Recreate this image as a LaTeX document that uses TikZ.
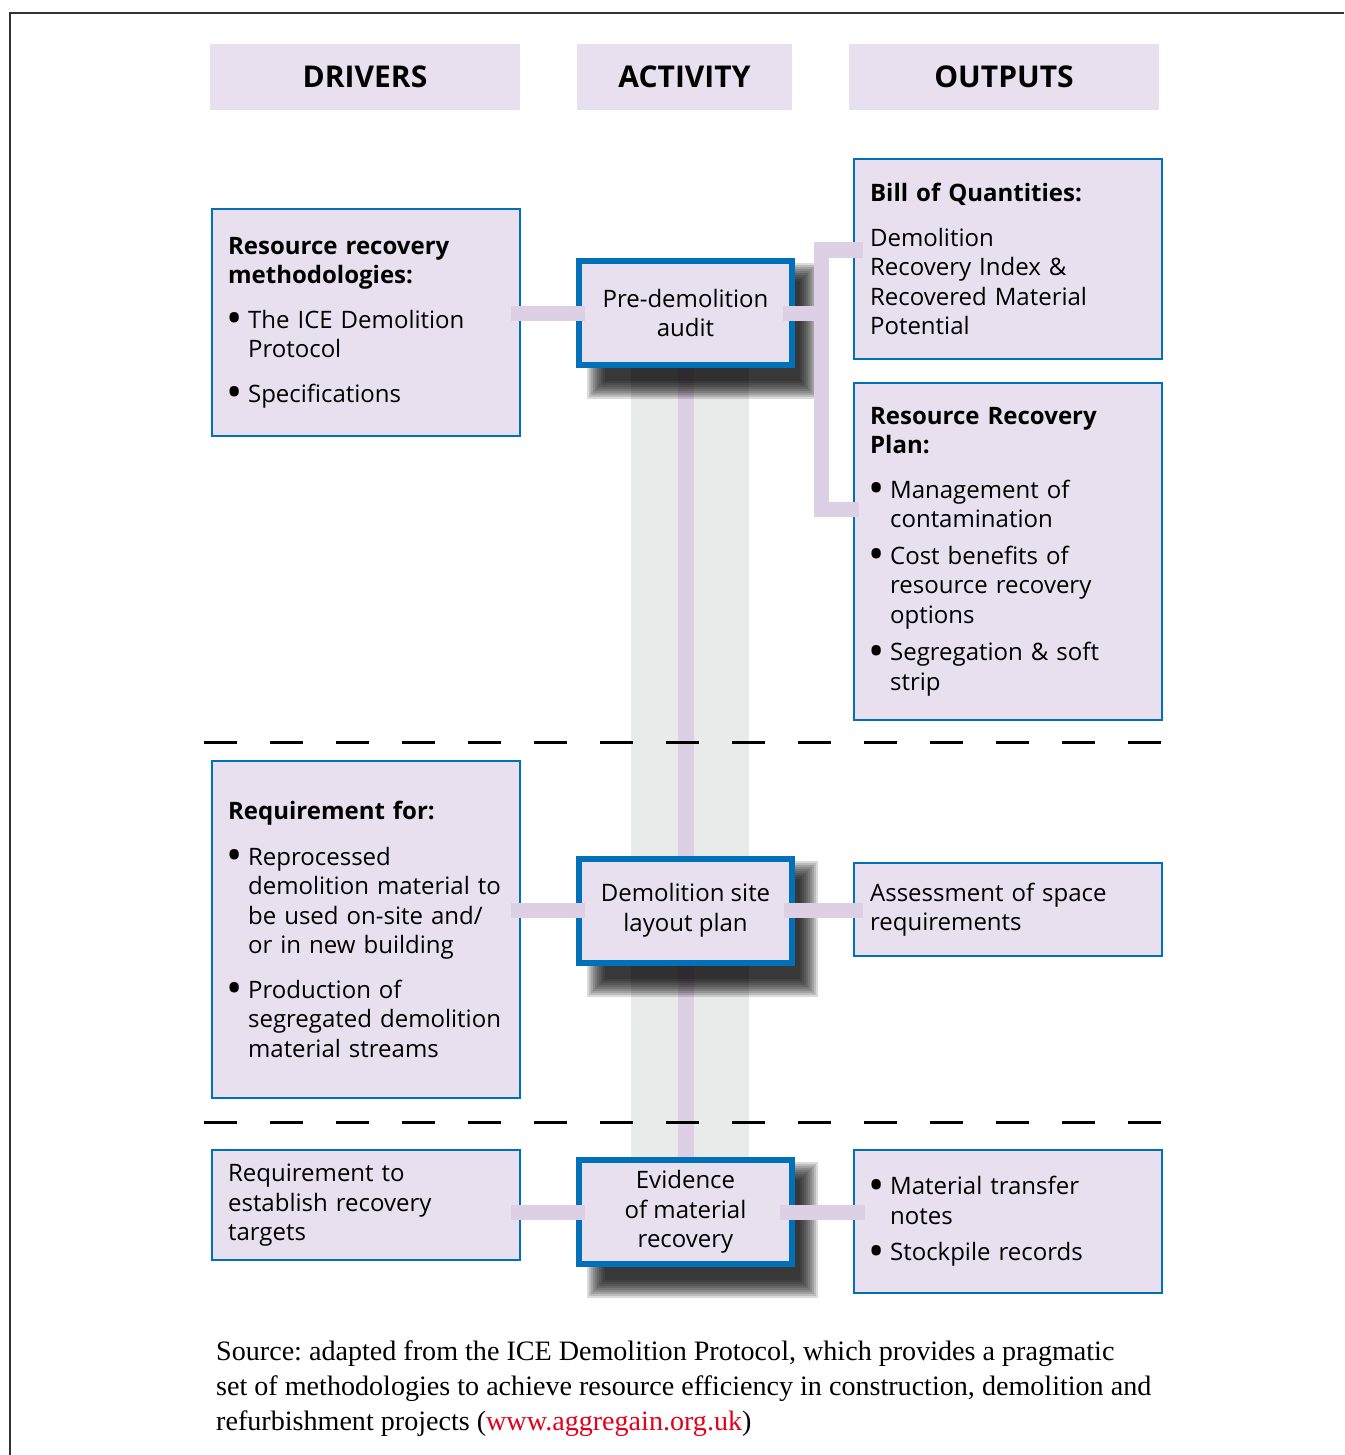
\documentclass[tikz,border=0pt]{standalone}
\usepackage{fontspec}
\setmainfont{Open Sans}
\newfontfamily\footfont{Liberation Serif}
\usetikzlibrary{calc}
\definecolor{boxfill}{HTML}{E8E0EE}
\definecolor{conn}{HTML}{DDCFE4}
\definecolor{bblue}{HTML}{0071B9}
\definecolor{band}{HTML}{E9EBEA}
\definecolor{urlred}{HTML}{E3001B}
\definecolor{framegray}{HTML}{333333}
\frenchspacing
\newcommand\bul{\makebox[20pt][l]{\hspace*{-1.5pt}\raisebox{-5.5pt}{\scalebox{1.8}{•}}}}
\newcommand\ind{\hspace*{20pt}}
\newcommand\actshadow[1]{\foreach \e in {9,7,5,3,1,-1,-3,-5,-7,-9}{\fill[black,opacity=0.14] ($(#1.north west)+({20-(\e)},{14-(\e)})$) rectangle ($(#1.south east)+({14+(\e)},{22+(\e)})$);}}
\begin{document}
\begin{tikzpicture}[x=1pt,y=-1pt,
 hdr/.style={fill=boxfill, minimum height=66pt, inner sep=0pt, font=\fontsize{30}{36}\selectfont\bfseries},
 infobox/.style={draw=bblue, line width=2.2pt, fill=boxfill, anchor=north west, align=left, inner xsep=16pt, inner ysep=0pt, text width=276pt, minimum width=308pt, font=\fontsize{24}{29.5}\selectfont},
 actbox/.style={draw=bblue, line width=6pt, fill=boxfill, align=center, inner sep=0pt, minimum width=213pt, minimum height=104pt, font=\fontsize{24}{29.5}\selectfont},
 link/.style={draw=conn, line width=15pt},
 divider/.style={draw=black, line width=3pt, dash pattern=on 33pt off 33pt}
]
\useasboundingbox (0,0) rectangle (1344,1455);
% frame
\draw[framegray, line width=2.5pt] (10,1455) -- (10,13) -- (1344,13);
% headers
\node[hdr, minimum width=310pt] (hdrv) at (365,77) {DRIVERS};
\node[hdr, minimum width=215pt] (hact) at (684.5,77) {ACTIVITY};
\node[hdr, minimum width=310pt] (hout) at (1004,77) {OUTPUTS};
% activity nodes (placed first for references)
\node[actbox] (a1) at (685.5,313) {Pre-demolition\\audit};
\node[actbox] (a2) at (685.5,910.5) {Demolition site\\layout plan};
\node[actbox] (a3) at (685.5,1212) {Evidence\\of material\\recovery};
% background band and spine
\fill[band] (631,366) rectangle (749,1159);
\draw[conn, line width=16pt] (a1.south) -- (a3.north);
% shadows
\actshadow{a1}
\actshadow{a2}
\actshadow{a3}
% redraw activity boxes on top of shadows
\node[actbox] at (a1) {Pre-demolition\\audit};
\node[actbox] at (a2) {Demolition site\\layout plan};
\node[actbox] at (a3) {Evidence\\of material\\recovery};
% drivers
\node[infobox, minimum height=227pt] (d1) at (211,208) {\textbf{Resource recovery}\\\textbf{methodologies:}\\[15pt]\bul The ICE Demolition\\\ind Protocol\\[15pt]\bul Specifications};
\node[infobox, minimum height=337pt] (d2) at (211,760) {\textbf{Requirement for:}\\[16pt]\bul Reprocessed\\\ind demolition material to\\\ind be used on-site and/\\\ind or in new building\\[15pt]\bul Production of\\\ind segregated demolition\\\ind material streams};
\node[infobox, minimum height=110pt] (d3) at (211,1149) {Requirement to\\establish recovery\\targets};
% outputs
\node[infobox, minimum height=200pt] (o1) at (853,158) {\textbf{Bill of Quantities:}\\[15pt]Demolition\\Recovery Index \&\\Recovered Material\\Potential};
\node[infobox, minimum height=337pt] (o2) at (853,382) {\textbf{Resource Recovery}\\\textbf{Plan:}\\[15pt]\bul Management of\\\ind contamination\\[7pt]\bul Cost benefits of\\\ind resource recovery\\\ind options\\[8pt]\bul Segregation \& soft\\\ind strip};
\node[infobox, minimum height=93pt] (o3) at (853,862) {Assessment of space\\requirements};
\node[infobox, minimum height=143pt] (o4) at (853,1149) {\bul Material transfer\\\ind notes\\[7pt]\bul Stockpile records};
% dividers
\draw[divider] (204,742) -- (1161,742);
\draw[divider] (204,1122) -- (1161,1122);
% connectors
\coordinate (bt) at (821,250);
\coordinate (bb) at (821,509);
\draw[link, shorten <=-10pt, shorten >=-9pt] (d1.east |- a1.west) -- (a1.west);
\draw[link, shorten <=-12pt] (a1.east) -- (a1.east -| bt);
\draw[link, line join=miter] ($(o1.west |- bt)+(10,0)$) -- (bt) -- (bb) -- ($(o2.west |- bb)+(6,0)$);
\draw[link, shorten <=-10pt, shorten >=-9pt] (d2.east |- a2.west) -- (a2.west);
\draw[link, shorten <=-11pt, shorten >=-10pt] (a2.east) -- (o3.west |- a2.east);
\draw[link, shorten <=-10pt, shorten >=-9pt] (d3.east |- a3.west) -- (a3.west);
\draw[link, shorten <=-15pt, shorten >=-12pt] (a3.east) -- (o4.west |- a3.east);
% footer
\node[anchor=north west, align=left, inner sep=0pt, font=\footfont\fontsize{28.1}{35}\selectfont] (src) at (216,1340) {Source: adapted from the ICE Demolition Protocol, which provides a pragmatic\\set of methodologies to achieve resource efficiency in construction, demolition and\\refurbishment projects (\textcolor{urlred}{www.aggregain.org.uk})};
\end{tikzpicture}
\end{document}
